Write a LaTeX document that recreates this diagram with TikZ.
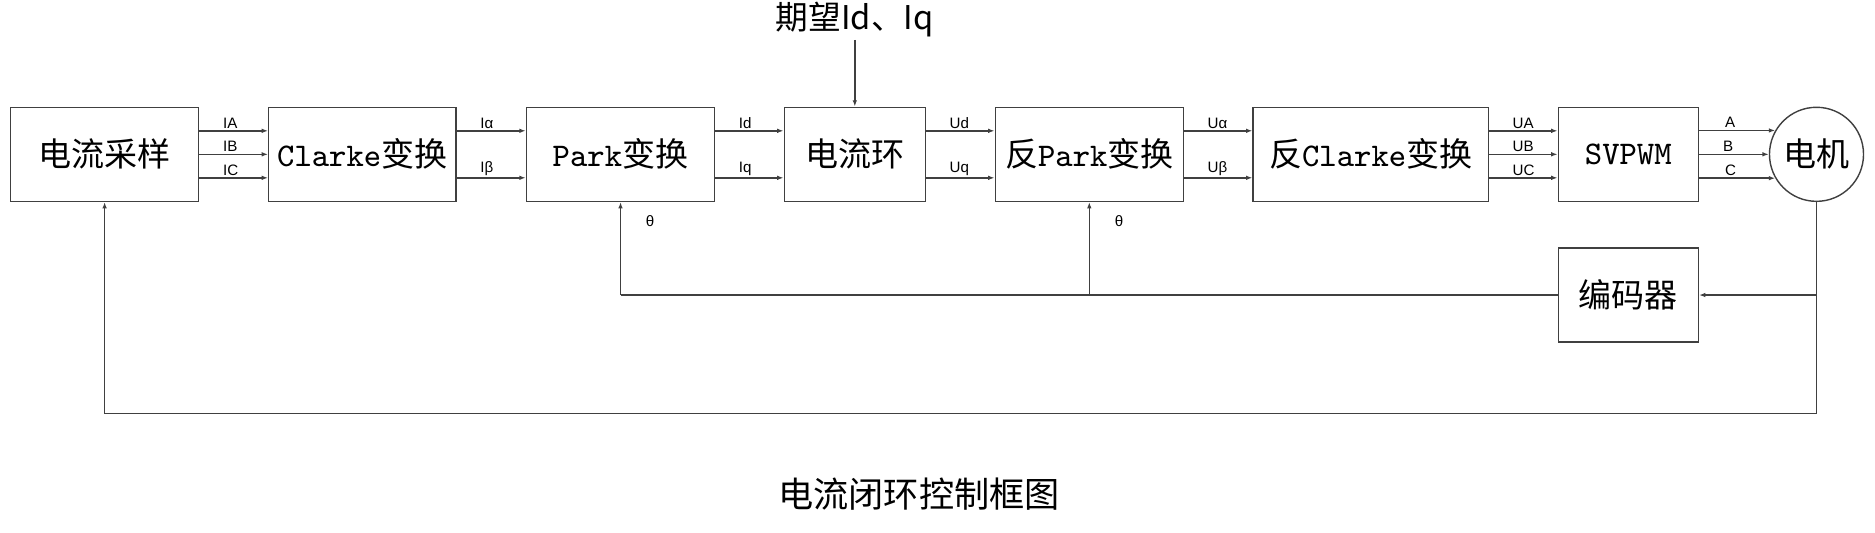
\documentclass[tikz,border=0pt]{standalone}
\usepackage{fontspec}
\setmainfont{Liberation Sans}
\newfontfamily\hei{Noto Sans CJK SC}
\usepackage{tikz}
\usetikzlibrary{arrows.meta,calc,positioning}

\begin{document}
\begin{tikzpicture}[x=0.01cm,y=-0.01cm,
  blk/.style={draw=black!75,line width=0.4pt,minimum height=0.94cm,inner sep=0pt,font=\fontsize{9.4}{11}\selectfont\hei},
  sig/.style={draw=black!75,line width=0.4pt,-{Latex[length=1.8pt,width=1.3pt]}},
  wire/.style={draw=black!75,line width=0.4pt},
  lbl/.style={font=\fontsize{4.3}{5}\selectfont,inner sep=0.5pt}]
\useasboundingbox (0,0) rectangle (1875,532);
\node[blk,minimum width=1.88cm] (samp) at (104.6,154.3) {电流采样};
\node[blk,minimum width=1.87cm] (clarke) at (362.3,154.3) {{\ttfamily Clarke}变换};
\node[blk,minimum width=1.88cm] (park) at (620.5,154.3) {{\ttfamily Park}变换};
\node[blk,minimum width=1.41cm] (loop) at (854.8,154.3) {电流环};
\node[blk,minimum width=1.88cm] (ipark) at (1089.3,154.3) {反{\ttfamily Park}变换};
\node[blk,minimum width=2.35cm] (iclarke) at (1370.7,154.3) {反{\ttfamily Clarke}变换};
\node[blk,minimum width=1.40cm] (svpwm) at (1628.3,154.3) {\ttfamily SVPWM};
\node[blk,circle,minimum size=0.94cm] (motor) at (1816.5,154.3) {电机};
\node[blk,minimum width=1.40cm] (enc) at (1628.3,295) {编码器};
\node[font=\fontsize{9.3}{11}\selectfont\hei,inner sep=0.5pt] (want) at (854.8,20) {期望Id、Iq};
\node[font=\fontsize{10}{12}\selectfont\hei] (cap) at (919,494) {电流闭环控制框图};

% forward path
\foreach \dy/\t in {-23.5/IA,0/IB,23.5/IC}
  \draw[sig] ($(samp.east)+(0,\dy)$) -- node[lbl,pos=0.31,anchor=south west]{\t} ($(clarke.west)+(0,\dy)$);
\foreach \dy/\t in {-23.5/Iα,23.5/Iβ}
  \draw[sig] ($(clarke.east)+(0,\dy)$) -- node[lbl,pos=0.31,anchor=south west]{\t} ($(park.west)+(0,\dy)$);
\foreach \dy/\t in {-23.5/Id,23.5/Iq}
  \draw[sig] ($(park.east)+(0,\dy)$) -- node[lbl,pos=0.31,anchor=south west]{\t} ($(loop.west)+(0,\dy)$);
\foreach \dy/\t in {-23.5/Ud,23.5/Uq}
  \draw[sig] ($(loop.east)+(0,\dy)$) -- node[lbl,pos=0.31,anchor=south west]{\t} ($(ipark.west)+(0,\dy)$);
\foreach \dy/\t in {-23.5/Uα,23.5/Uβ}
  \draw[sig] ($(ipark.east)+(0,\dy)$) -- node[lbl,pos=0.31,anchor=south west]{\t} ($(iclarke.west)+(0,\dy)$);
\foreach \dy/\t in {-23.5/UA,0/UB,23.5/UC}
  \draw[sig] ($(iclarke.east)+(0,\dy)$) -- node[lbl,pos=0.31,anchor=south west]{\t} ($(svpwm.west)+(0,\dy)$);
\foreach \ang/\t in {150/A,180/B,210/C}
  \draw[sig] (svpwm.east |- motor.\ang) -- node[lbl,pos=0.31,anchor=south west]{\t} (motor.\ang);
\draw[sig] (want.south) -- (loop.north);

% feedback
\draw[sig] (motor.south) -- ++(0,211.5) -| (samp.south);
\draw[sig] (motor.south |- enc.east) -- (enc.east);
\draw[wire] (enc.west) -- (park.south |- enc.west);
\draw[sig] (park.south |- enc.west) -- node[lbl,pos=0.8,right=2.3mm]{θ} (park.south);
\draw[sig] (ipark.south |- enc.west) -- node[lbl,pos=0.8,right=2.3mm]{θ} (ipark.south);
\end{tikzpicture}
\end{document}
